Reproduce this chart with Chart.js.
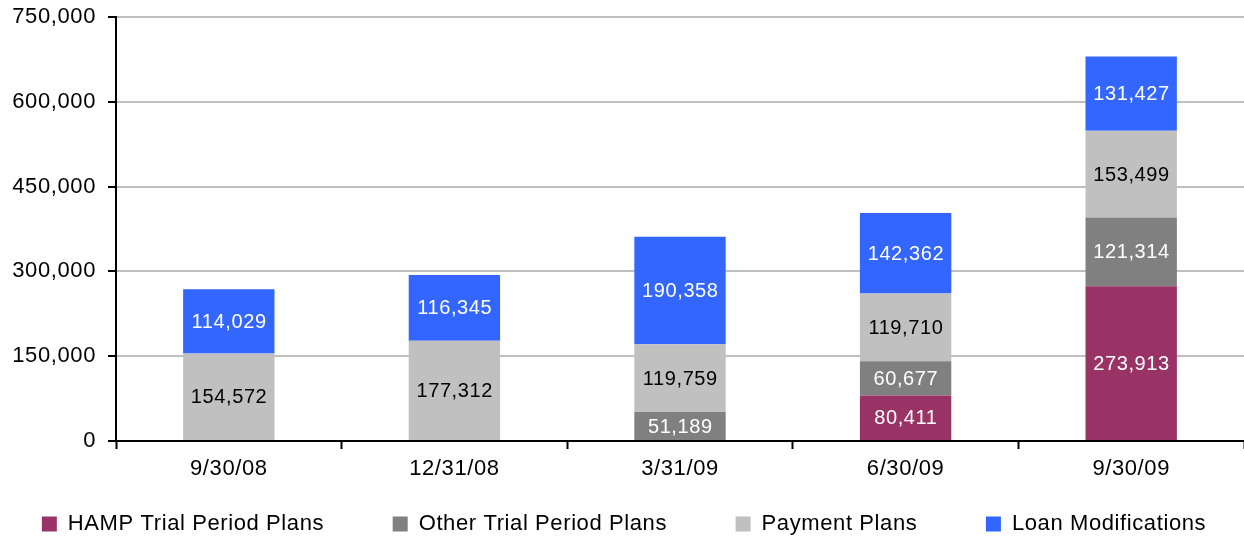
<!DOCTYPE html>
<html>
<head>
<meta charset="utf-8">
<script src="https://cdn.jsdelivr.net/npm/chart.js@4/dist/chart.umd.min.js"></script>
<style>
  html, body { margin: 0; padding: 0; background: #ffffff; }
  #wrap { width: 1244px; height: 540px; }
</style>
</head>
<body>
<div id="wrap"><canvas id="modChart" width="1244" height="540"></canvas></div>
<script>
const categories = ['9/30/08', '12/31/08', '3/31/09', '6/30/09', '9/30/09'];
const hampTrial = [0, 0, 0, 80411, 273913];
const otherTrial = [0, 0, 51189, 60677, 121314];
const paymentPlans = [154572, 177312, 119759, 119710, 153499];
const loanMods = [114029, 116345, 190358, 142362, 131427];
const yTicks = [0, 150000, 300000, 450000, 600000, 750000];

const { Chart } = window;

const FONT = '"Liberation Sans", Arial, sans-serif';
Chart.defaults.font.family = FONT;
Chart.defaults.font.size = 22;
Chart.defaults.color = '#000000';

const fmt = (v) => v.toLocaleString('en-US');

// the original text is a touch wider than Arial, so space the letters a bit
const LS = '0.6px';
const spacing = {
  id: 'spacing',
  afterInit(chart) { chart.ctx.letterSpacing = LS; },
  beforeLayout(chart) { chart.ctx.letterSpacing = LS; },
  beforeDraw(chart) { chart.ctx.letterSpacing = LS; },
};

const barLabels = {
  id: 'barLabels',
  afterDatasetsDraw(chart) {
    const { ctx } = chart;
    ctx.save();
    ctx.font = '20px ' + FONT;
    ctx.textAlign = 'center';
    ctx.textBaseline = 'middle';
    chart.data.datasets.forEach((ds, i) => {
      const meta = chart.getDatasetMeta(i);
      meta.data.forEach((bar, j) => {
        const v = ds.data[j];
        if (!v) return;
        ctx.fillStyle = ds.labelColor;
        ctx.fillText(fmt(v), bar.x + 0.3, (bar.y + bar.base) / 2 + 1);
      });
    });
    ctx.restore();
  },
};

const ctx = document.getElementById('modChart').getContext('2d');
new Chart(ctx, {
  type: 'bar',
  data: {
    labels: categories,
    datasets: [
      { label: 'HAMP Trial Period Plans', data: hampTrial, backgroundColor: '#993366', labelColor: '#ffffff' },
      { label: 'Other Trial Period Plans', data: otherTrial, backgroundColor: '#808080', labelColor: '#ffffff' },
      { label: 'Payment Plans', data: paymentPlans, backgroundColor: '#c0c0c0', labelColor: '#000000' },
      { label: 'Loan Modifications', data: loanMods, backgroundColor: '#3366ff', labelColor: '#ffffff' },
    ],
  },
  options: {
    responsive: false,
    animation: false,
    layout: { padding: { top: 0, right: 0, left: 4, bottom: 0 } },
    datasets: {
      bar: { barPercentage: 0.405, categoryPercentage: 1 },
    },
    plugins: {
      legend: {
        position: 'bottom',
        maxHeight: 62,
        labels: {
          boxWidth: 15,
          boxHeight: 15,
          padding: 35,
          color: '#000000',
          font: { size: 22 },
          generateLabels(chart) {
            const items = Chart.defaults.plugins.legend.labels.generateLabels(chart);
            items.forEach((it, i) => {
              if (i < items.length - 1) it.text += '     ';
            });
            return items;
          },
        },
      },
      tooltip: { enabled: false },
    },
    scales: {
      x: {
        stacked: true,
        afterFit(scale) { scale.height = 37; },
        border: { color: '#000000', width: 2 },
        grid: {
          offset: true,
          drawOnChartArea: false,
          drawTicks: true,
          tickLength: 8,
          tickColor: '#000000',
          tickWidth: 2,
        },
        ticks: { padding: 7, color: '#000000', maxRotation: 0 },
      },
      y: {
        stacked: true,
        min: 0,
        max: 750000,
        afterFit(scale) {
          scale.width = 112;
          scale.paddingTop = 17;
        },
        afterBuildTicks(scale) {
          scale.ticks = yTicks.map((v) => ({ value: v }));
        },
        border: { color: '#000000', width: 2 },
        grid: {
          color: '#c0c0c0',
          lineWidth: 2,
          tickLength: 8,
          tickColor: '#000000',
          tickWidth: 2,
        },
        ticks: {
          padding: 12,
          color: '#000000',
          callback: (v) => fmt(v),
        },
      },
    },
  },
  plugins: [spacing, barLabels],
});
</script>
</body>
</html>
